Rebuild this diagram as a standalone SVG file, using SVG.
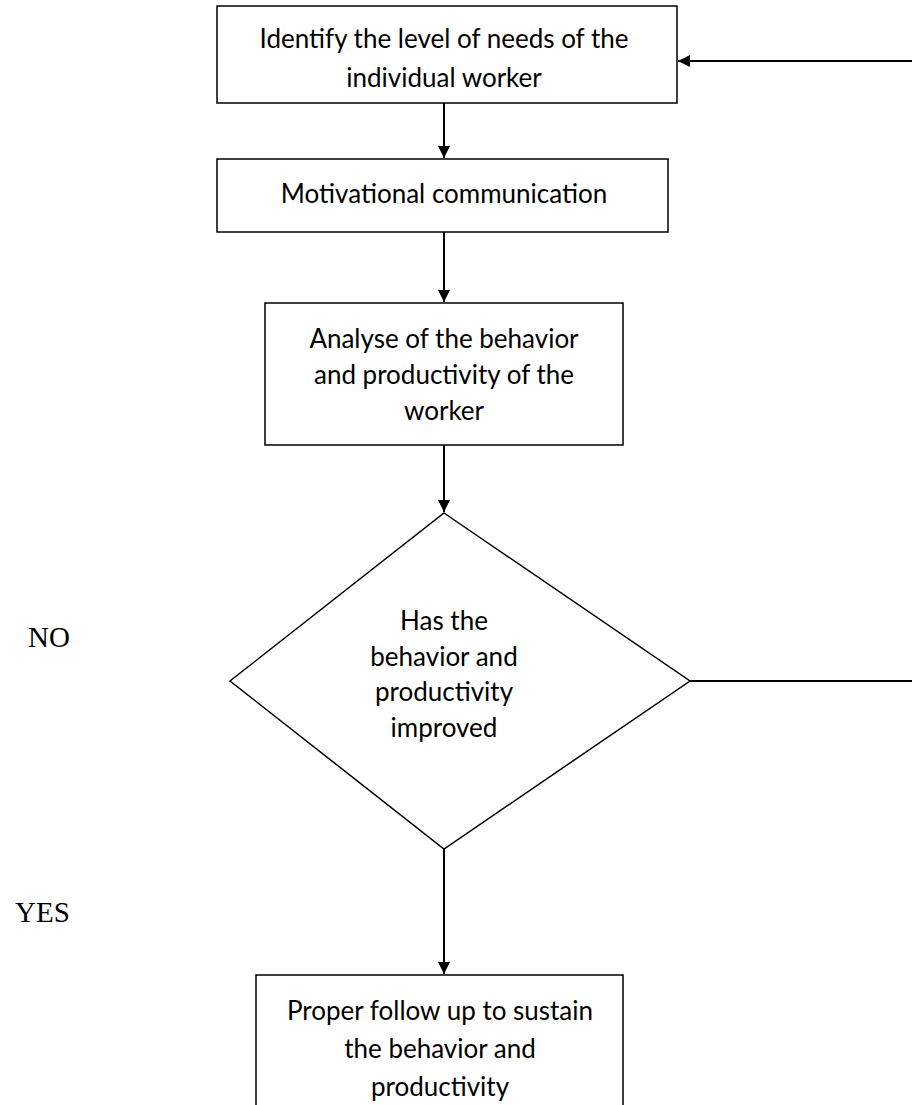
<svg xmlns="http://www.w3.org/2000/svg" width="912" height="1105" viewBox="0 0 912 1105">
<style>
.box{fill:#fff;stroke:#000;stroke-width:1.5}
.t{font-family:Lato,"Open Sans","Liberation Sans",sans-serif;font-size:26px;fill:#000;text-anchor:middle}
.lbl{font-family:"Liberation Serif",serif;font-size:29px;fill:#000}
.c{stroke:#000;stroke-width:2;fill:none}
</style>
<defs>
<marker id="ah" viewBox="0 0 12 12" refX="12" refY="6" markerWidth="12" markerHeight="12" markerUnits="userSpaceOnUse" orient="auto">
<path d="M0,0 L12,6 L0,12 Z" fill="#000"/>
</marker>
</defs>
<rect width="912" height="1105" fill="#fff"/>
<g id="connectors">
<line class="c" x1="912" y1="61" x2="678" y2="61" marker-end="url(#ah)"/>
<line class="c" x1="444" y1="103" x2="444" y2="158" marker-end="url(#ah)"/>
<line class="c" x1="444" y1="232" x2="444" y2="302" marker-end="url(#ah)"/>
<line class="c" x1="444" y1="445" x2="444" y2="512" marker-end="url(#ah)"/>
<line class="c" x1="444" y1="849" x2="444" y2="974" marker-end="url(#ah)"/>
<line class="c" x1="690" y1="681" x2="912" y2="681"/>
</g>
<g id="n1">
<rect class="box" x="217" y="6" width="460" height="97"/>
<text class="t" x="444" y="48">Identify the level of needs of the</text>
<text class="t" x="444" y="87">individual worker</text>
</g>
<g id="n2">
<rect class="box" x="217" y="159" width="451" height="73"/>
<text class="t" x="444" y="203">Motivational communication</text>
</g>
<g id="n3">
<rect class="box" x="265" y="303" width="358" height="142"/>
<text class="t" x="444" y="348">Analyse of the behavior</text>
<text class="t" x="444" y="384">and productivity of the</text>
<text class="t" x="444" y="420">worker</text>
</g>
<g id="n4">
<polygon class="box" points="444,513 690,681 444,849 230,681"/>
<text class="t" x="444" y="630">Has the</text>
<text class="t" x="444" y="666">behavior and</text>
<text class="t" x="444" y="701">productivity</text>
<text class="t" x="444" y="737">improved</text>
</g>
<g id="n5">
<rect class="box" x="256" y="975" width="367" height="140"/>
<text class="t" x="440" y="1020">Proper follow up to sustain</text>
<text class="t" x="440" y="1058">the behavior and</text>
<text class="t" x="440" y="1096">productivity</text>
</g>
<g id="labels">
<text class="lbl" x="28" y="647">NO</text>
<text class="lbl" x="15" y="922">YES</text>
</g>
</svg>
